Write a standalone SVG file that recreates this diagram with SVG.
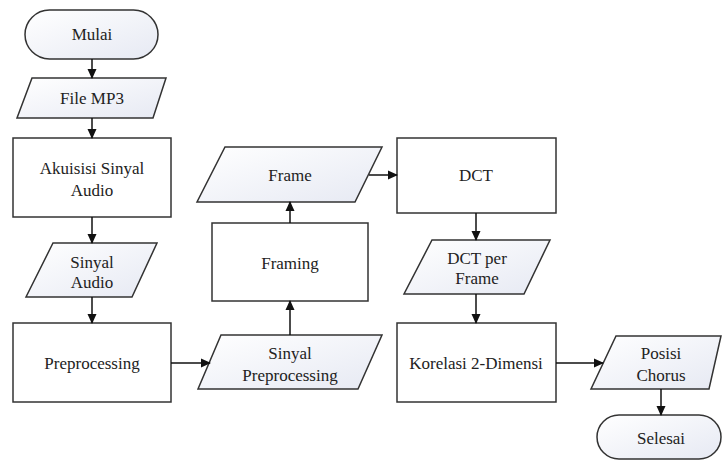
<svg xmlns="http://www.w3.org/2000/svg" width="723" height="461" viewBox="0 0 723 461">
<style>
.s{stroke:#333;stroke-width:1.5}
.box{fill:#fff}
.io{fill:url(#g)}
.c{fill:none;stroke:#111;stroke-width:1.5;marker-end:url(#a)}
</style>
<defs>
<linearGradient id="g" x1="0" y1="0" x2="1" y2="1">
<stop offset="0" stop-color="#ffffff"/>
<stop offset="1" stop-color="#e6e9f3"/>
</linearGradient>
<marker id="a" markerWidth="10" markerHeight="10" refX="9" refY="5" orient="auto" markerUnits="userSpaceOnUse">
<path d="M0,0.5 L10,5 L0,9.5 Z" fill="#111"/>
</marker>
</defs>
<g font-family="Liberation Serif" font-size="17" text-anchor="middle" fill="#222">
<g id="mulai"><rect class="s io" x="25" y="10" width="133" height="49" rx="24.5"/><text x="92" y="40">Mulai</text></g>
<g id="filemp3"><polygon class="s io" points="32,78 166,78 153,118 17,118"/><text x="92" y="104">File MP3</text></g>
<g id="akuisisi"><rect class="s box" x="13" y="138" width="158" height="79"/><text x="92" y="174">Akuisisi Sinyal</text><text x="92" y="196">Audio</text></g>
<g id="sinyalaudio"><polygon class="s io" points="53,243 157,243 132,297 26,297"/><text x="92" y="268">Sinyal</text><text x="92" y="288">Audio</text></g>
<g id="preprocessing"><rect class="s box" x="13" y="323" width="158" height="79"/><text x="92" y="369">Preprocessing</text></g>
<g id="sinyalpre"><polygon class="s io" points="221,335 382,335 358,389 198,389"/><text x="290" y="359">Sinyal</text><text x="290" y="381">Preprocessing</text></g>
<g id="framing"><rect class="s box" x="212" y="223" width="156" height="78"/><text x="290" y="269">Framing</text></g>
<g id="frame"><polygon class="s io" points="225,147 382,147 355,202 197,202"/><text x="290" y="181">Frame</text></g>
<g id="dct"><rect class="s box" x="397" y="138" width="159" height="75"/><text x="476" y="181">DCT</text></g>
<g id="dctframe"><polygon class="s io" points="432,240 550,240 524,294 404,294"/><text x="477" y="264">DCT per</text><text x="477" y="284">Frame</text></g>
<g id="korelasi"><rect class="s box" x="397" y="323" width="159" height="79"/><text x="476" y="369">Korelasi 2-Dimensi</text></g>
<g id="posisi"><polygon class="s io" points="616,336 721,336 709,389 591,389"/><text x="661" y="359">Posisi</text><text x="661" y="381">Chorus</text></g>
<g id="selesai"><rect class="s io" x="597" y="415" width="124" height="44" rx="22"/><text x="661" y="444">Selesai</text></g>
</g>
<g id="connectors">
<line class="c" x1="92" y1="59" x2="92" y2="78"/>
<line class="c" x1="92" y1="118" x2="92" y2="138"/>
<line class="c" x1="92" y1="217" x2="92" y2="243"/>
<line class="c" x1="92" y1="297" x2="92" y2="323"/>
<line class="c" x1="171" y1="363" x2="210" y2="363"/>
<line class="c" x1="290" y1="335" x2="290" y2="301"/>
<line class="c" x1="290" y1="223" x2="290" y2="202"/>
<line class="c" x1="369" y1="175" x2="397" y2="175"/>
<line class="c" x1="476" y1="213" x2="476" y2="240"/>
<line class="c" x1="476" y1="294" x2="476" y2="323"/>
<line class="c" x1="556" y1="363" x2="603" y2="363"/>
<line class="c" x1="661" y1="389" x2="661" y2="415"/>
</g>
</svg>
